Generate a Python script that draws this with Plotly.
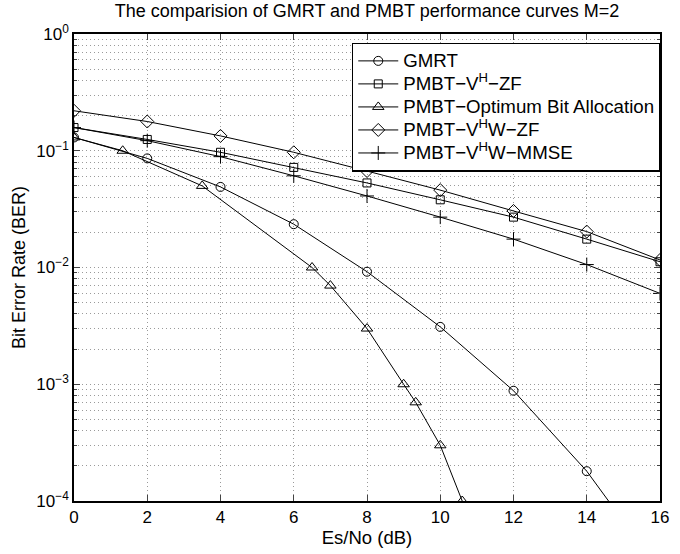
import plotly.graph_objects as go

x_std = [0, 2, 4, 6, 8, 10, 12, 14, 16]
gmrt = [0.13, 0.086, 0.049, 0.0235, 0.0092, 0.0031, 0.00088, 0.00018, 0.000025]
vh_zf = [0.158, 0.125, 0.097, 0.072, 0.053, 0.038, 0.027, 0.0175, 0.0112]
vhw_zf = [0.22, 0.178, 0.134, 0.097, 0.067, 0.046, 0.0305, 0.0203, 0.0116]
vhw_mmse = [0.158, 0.122, 0.089, 0.061, 0.041, 0.027, 0.0175, 0.0106, 0.006]
x_opt = [0, 1.33, 3.5, 6.5, 7.0, 8.0, 9.0, 9.33, 10.0, 10.6]
opt = [0.13, 0.1, 0.05, 0.01, 0.007, 0.003, 0.001, 0.0007, 0.0003, 0.0001]

names = ["GMRT", "PMBT−V<sup>H</sup>−ZF", "PMBT−Optimum Bit Allocation",
         "PMBT−V<sup>H</sup>W−ZF", "PMBT−V<sup>H</sup>W−MMSE"]
y_ticks = [1, 0.1, 0.01, 0.001, 0.0001]
y_tick_text = ["10<sup>0</sup>", "10<sup>−1</sup>", "10<sup>−2</sup>", "10<sup>−3</sup>", "10<sup>−4</sup>"]
x_ticks = [0, 2, 4, 6, 8, 10, 12, 14, 16]
decades = [0.0001, 0.001, 0.01, 0.1]
mantissas = [2, 3, 4, 5, 6, 7, 8, 9]
y_minor = [m * d for d in decades for m in mantissas]

series = [
    (x_std, gmrt, "circle-open", 9),
    (x_std, vh_zf, "square-open", 8),
    (x_opt, opt, "triangle-up-open", 10),
    (x_std, vhw_zf, "diamond-open", 10),
    (x_std, vhw_mmse, "cross-thin-open", 10),
]

fig = go.Figure()
for (xs, ys, sym, sz), nm in zip(series, names):
    fig.add_trace(go.Scatter(
        x=xs, y=ys, name='<span style="font-size:18.7px">' + nm + '</span>',
        mode="lines+markers",
        line=dict(color="black", width=1),
        marker=dict(symbol=sym, size=sz, color="black", line=dict(color="black", width=1)),
        cliponaxis=True,
    ))

font = "Liberation Sans, Arial, Helvetica, sans-serif"
grid_c = "#9a9a9a"
grid_dash = "1px,3px"
fig.update_layout(
    width=680, height=554,
    margin=dict(l=74, r=11, t=34, b=50),
    paper_bgcolor="white", plot_bgcolor="white",
    font=dict(family=font, color="black", size=16),
    title=dict(text="The comparision of GMRT and PMBT performance curves M=2",
               x=0.5, xref="paper", xanchor="center", y=0.992, yanchor="top",
               font=dict(size=18, family=font)),
    showlegend=True,
    legend=dict(x=0.474, y=0.981, xanchor="left", yanchor="top",
                bordercolor="black", borderwidth=1.5, bgcolor="white",
                font=dict(size=15.4, family=font), tracegroupgap=0,
                itemwidth=40),
    xaxis=dict(range=[0, 16], tickvals=x_ticks, ticks="inside", ticklen=6,
               showline=True, linecolor="black", linewidth=1.5, mirror="ticks",
               showgrid=True, gridcolor=grid_c, griddash=grid_dash, gridwidth=1,
               zeroline=False, tickfont=dict(size=17),
               title=dict(text="Es/No (dB)", font=dict(size=18.5), standoff=3)),
    yaxis=dict(type="log", range=[-4, 0], tickvals=y_ticks, ticktext=y_tick_text,
               ticks="inside", ticklen=6,
               showline=True, linecolor="black", linewidth=1.5, mirror="ticks",
               showgrid=True, gridcolor=grid_c, griddash=grid_dash, gridwidth=1,
               zeroline=False, tickfont=dict(size=17),
               minor=dict(tickmode="array", tickvals=y_minor, ticks="inside", ticklen=3,
                          showgrid=True, gridcolor=grid_c, griddash=grid_dash, gridwidth=1),
               title=dict(text="Bit Error Rate (BER)", font=dict(size=18), standoff=6)),
)

fig.write_html("out.html")
